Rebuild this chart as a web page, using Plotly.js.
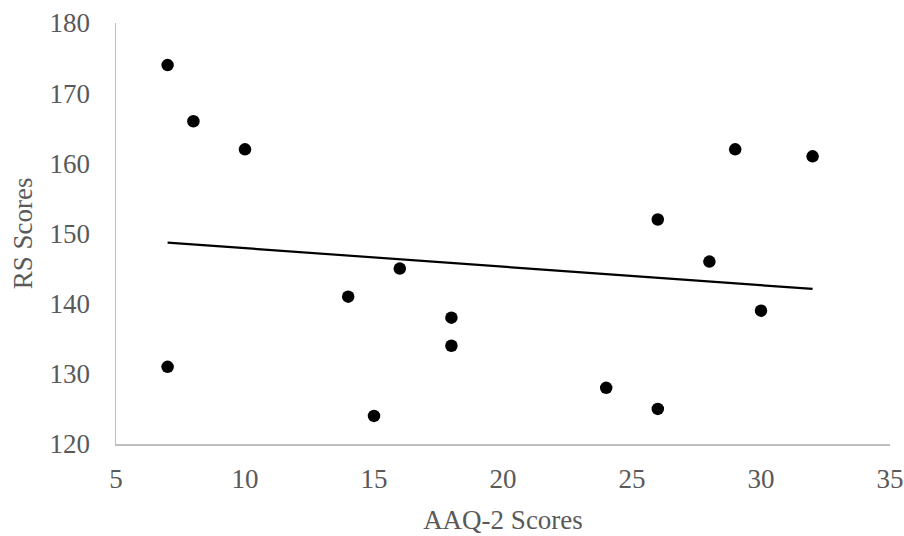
<!DOCTYPE html>
<html>
<head>
<meta charset="utf-8">
<script src="https://cdn.plot.ly/plotly-3.0.1.min.js"></script>
<style>html,body{margin:0;padding:0;background:#fff;}#chart{width:904px;height:536px;}</style>
</head>
<body>
<div id="chart"></div>
<script>
// AAQ-2 scores (x) and RS scores (y)
const aaqScores = [7, 8, 10, 7, 14, 15, 16, 18, 18, 24, 26, 26, 28, 29, 30, 32];
const rsScores  = [174, 166, 162, 131, 141, 124, 145, 138, 134, 128, 152, 125, 146, 162, 139, 161];
// linear trendline endpoints
const trendX = [7, 32];
const trendY = [148.7, 142.1];
const xTickVals = [5, 10, 15, 20, 25, 30, 35];
const yTickVals = [120, 130, 140, 150, 160, 170, 180];

const fontFamily = '"Liberation Serif", "Times New Roman", serif';
const textColor = '#595959';
const fs = 27;

const traces = [
  {
    x: trendX, y: trendY, type: 'scatter', mode: 'lines',
    line: {color: '#000000', width: 2.2},
    hoverinfo: 'skip', showlegend: false
  },
  {
    x: aaqScores, y: rsScores, type: 'scatter', mode: 'markers',
    marker: {color: '#000000', size: 12.5, symbol: 'circle'},
    showlegend: false
  }
];

const layout = {
  width: 904, height: 536,
  margin: {l: 116, r: 14, t: 23, b: 92, pad: 0},
  paper_bgcolor: '#ffffff', plot_bgcolor: '#ffffff',
  font: {family: fontFamily, size: fs, color: textColor},
  showlegend: false,
  xaxis: {
    range: [5, 35], tickvals: xTickVals, ticktext: xTickVals.map(String),
    showgrid: false, zeroline: false,
    showline: true, linecolor: '#bfbfbf', linewidth: 1.5,
    ticks: '', ticklabelstandoff: 10,
    tickfont: {family: fontFamily, size: fs, color: textColor},
    title: {text: 'AAQ-2 Scores', font: {family: fontFamily, size: fs, color: textColor}, standoff: 17},
    automargin: false
  },
  yaxis: {
    range: [120, 180], tickvals: yTickVals, ticktext: yTickVals.map(String),
    showgrid: false, zeroline: false,
    showline: true, linecolor: '#bfbfbf', linewidth: 1.5,
    ticks: '', ticklabelstandoff: 19,
    tickfont: {family: fontFamily, size: fs, color: textColor},
    title: {text: 'RS Scores', font: {family: fontFamily, size: fs, color: textColor}, standoff: 9},
    automargin: false
  }
};

Plotly.newPlot('chart', traces, layout, {displayModeBar: false, staticPlot: true});
</script>
</body>
</html>
